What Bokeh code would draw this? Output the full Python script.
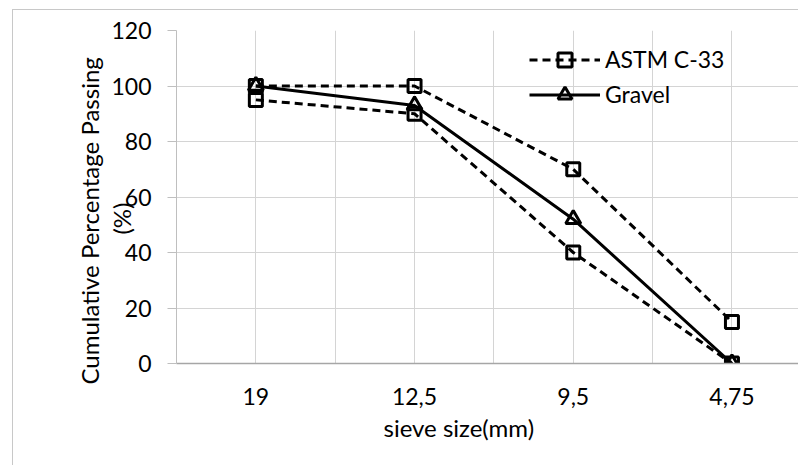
from bokeh.plotting import figure
from bokeh.models import Range1d, FixedTicker, Legend, LegendItem, Title, InlineStyleSheet
from bokeh.embed import file_html
from bokeh.resources import INLINE

# ---- data ----
sieve_labels = ["19", "12,5", "9,5", "4,75"]
astm_upper = [100, 100, 70, 15]
astm_lower = [95, 90, 40, 0]
gravel = [100, 93, 52, 0]
y_ticks = [0, 20, 40, 60, 80, 100, 120]

x = list(range(len(sieve_labels)))

# ---- layout constants ----
FONT = "Lato"
FS = "23px"
FS_T = "24px"
OFF_X, OFF_Y = 12, 9           # page offset of the chart box
W, H = 798 - OFF_X, 465 - OFF_Y
FRAME_L, FRAME_T, FRAME_B = 175, 29, 362
ML, MT = FRAME_L - OFF_X, FRAME_T - OFF_Y
MB = 465 - FRAME_B
FW = W - ML
FH = H - MT - MB
PX_PER_CAT = 158.7
x_start = -0.5
x_end = x_start + FW / PX_PER_CAT

box_css = InlineStyleSheet(css=":host { border-top: 1px solid #c8c8c8; border-left: 1px solid #c8c8c8; }")

p = figure(width=W, height=H, output_backend="svg", toolbar_location=None,
           x_range=Range1d(x_start, x_end), y_range=Range1d(0, 120),
           min_border_left=ML, min_border_right=0, min_border_top=MT,
           min_border_bottom=MB, margin=(OFF_Y, 0, 0, OFF_X),
           stylesheets=[box_css])
p.outline_line_color = None
p.background_fill_color = "white"
p.border_fill_alpha = 0

# axes
p.xaxis.ticker = FixedTicker(ticks=x)
p.xaxis.major_label_overrides = {i: s for i, s in enumerate(sieve_labels)}
p.xaxis.major_tick_line_color = None
p.xaxis.minor_tick_line_color = None
p.xaxis.axis_line_color = "#a6a6a6"
p.xaxis.axis_line_width = 1.5
p.xaxis.major_label_standoff = 18
p.yaxis.ticker = FixedTicker(ticks=y_ticks)
p.yaxis.major_tick_out = 9
p.yaxis.major_tick_in = 0
p.yaxis.major_tick_line_color = "#bfbfbf"
p.yaxis.minor_tick_line_color = None
p.yaxis.axis_line_color = "#bfbfbf"
p.yaxis.major_label_standoff = 16
for ax in (p.xaxis, p.yaxis):
    ax.major_label_text_font = FONT
    ax.major_label_text_font_size = FS
    ax.major_label_text_color = "black"

# second line of the y title sits on the axis itself, overlapping the tick labels
# (trailing no-break spaces move the visible "(%)" down to the centre of the first line)
p.yaxis.axis_label = "(%)" + "\u00a0" * 7
p.yaxis.axis_label_standoff = -28
p.yaxis.axis_label_text_font = FONT
p.yaxis.axis_label_text_font_size = FS_T
p.yaxis.axis_label_text_font_style = "normal"
p.yaxis.axis_label_text_color = "black"

p.xgrid.ticker = FixedTicker(ticks=[v / 2 for v in range(0, 8)])
p.ygrid.ticker = FixedTicker(ticks=y_ticks)
for g in (p.xgrid, p.ygrid):
    g.grid_line_color = "#d4d4d4"
    g.grid_line_width = 1

# series
DASH = "8 5"
r_up_l = p.line(x, astm_upper, line_color="black", line_width=3, line_dash=DASH)
r_lo_l = p.line(x, astm_lower, line_color="black", line_width=3, line_dash=DASH)
r_g_l = p.line(x, gravel, line_color="black", line_width=3)
r_up_m = p.scatter(x, astm_upper, marker="square", size=13, line_color="black", line_width=3, fill_color=None)
r_lo_m = p.scatter(x, astm_lower, marker="square", size=13, line_color="black", line_width=3, fill_color=None)
r_g_m = p.scatter(x, gravel, marker="triangle", size=15, line_color="black", line_width=3, fill_color=None)

legend = Legend(items=[LegendItem(label="ASTM C-33", renderers=[r_up_l, r_up_m]),
                       LegendItem(label="Gravel", renderers=[r_g_l, r_g_m])],
                location=(528 - FRAME_L, FH - (40.5 - FRAME_T) - 70),
                glyph_width=71, glyph_height=35, label_height=35, spacing=0,
                label_standoff=5, padding=0, margin=0,
                border_line_color=None, background_fill_alpha=0,
                label_text_font=FONT, label_text_font_size=FS, label_text_color="black")
p.add_layout(legend)

# axis titles
t_y = Title(text="Cumulative Percentage Passing", align="left", offset=-21, standoff=2,
            vertical_align="bottom", text_font=FONT, text_font_size=FS_T,
            text_font_style="normal", text_color="black")
p.add_layout(t_y, "left")
t_x = Title(text="sieve size(mm)", align="left", offset=207, standoff=6,
            vertical_align="bottom", text_font=FONT, text_font_size=FS_T,
            text_font_style="normal", text_color="black")
p.add_layout(t_x, "below")

open("out.html", "w").write(file_html(p, INLINE))
